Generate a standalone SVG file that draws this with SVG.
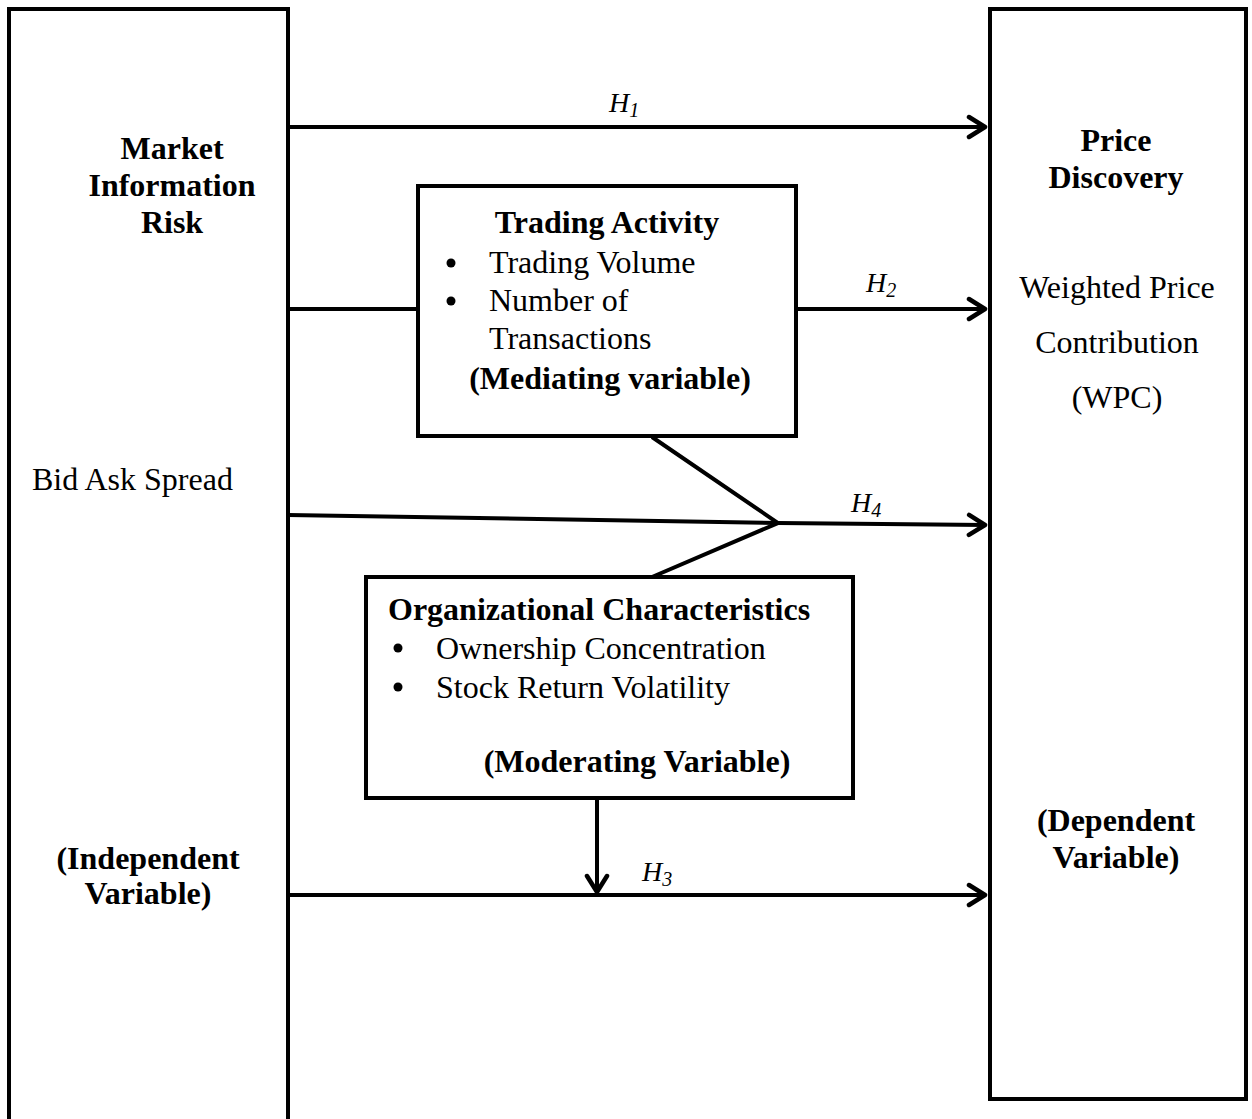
<svg xmlns="http://www.w3.org/2000/svg" width="1252" height="1119" viewBox="0 0 1252 1119">
<style>
.box{fill:#fff;stroke:#000;stroke-width:4}
.ln{fill:none;stroke:#000;stroke-width:4}
text{font-family:"Liberation Serif","Times New Roman",serif;font-size:32px;fill:#000}
.b{font-weight:bold}
.c{text-anchor:middle}
.h{font-style:italic;font-size:28px}
.s{font-size:20px}
</style>
<defs>
<marker id="ah" viewBox="0 0 22 26" refX="20" refY="13" markerWidth="22" markerHeight="26" markerUnits="userSpaceOnUse" orient="auto">
<path d="M3,3 L19,13 L3,23" fill="none" stroke="#000" stroke-width="4.5" stroke-linecap="round" stroke-linejoin="round"/>
</marker>
</defs>
<g id="independent">
<rect class="box" x="9" y="9" width="279" height="1120"/>
<text class="b c" x="172" y="159">Market</text>
<text class="b c" x="172" y="196">Information</text>
<text class="b c" x="172" y="233">Risk</text>
<text x="32" y="490">Bid Ask Spread</text>
<text class="b c" x="148" y="869">(Independent</text>
<text class="b c" x="148" y="904">Variable)</text>
</g>
<g id="dependent">
<rect class="box" x="990" y="9" width="256" height="1090"/>
<text class="b c" x="1116" y="151">Price</text>
<text class="b c" x="1116" y="188">Discovery</text>
<text class="c" x="1117" y="298">Weighted Price</text>
<text class="c" x="1117" y="353">Contribution</text>
<text class="c" x="1117" y="408">(WPC)</text>
<text class="b c" x="1116" y="831">(Dependent</text>
<text class="b c" x="1116" y="868">Variable)</text>
</g>
<g id="connectors">
<line class="ln" x1="288" y1="127" x2="986" y2="127" marker-end="url(#ah)"/>
<line class="ln" x1="288" y1="309" x2="418" y2="309"/>
<line class="ln" x1="796" y1="309" x2="986" y2="309" marker-end="url(#ah)"/>
<polyline class="ln" points="288,515 778,523 986,525" marker-end="url(#ah)"/>
<polyline class="ln" points="652,437 778,523 652,577"/>
<line class="ln" x1="288" y1="895" x2="986" y2="895" marker-end="url(#ah)"/>
<line class="ln" x1="597" y1="798" x2="597" y2="893" marker-end="url(#ah)"/>
<text class="h" x="609" y="112">H<tspan class="s" dy="5">1</tspan></text>
<text class="h" x="866" y="292">H<tspan class="s" dy="5">2</tspan></text>
<text class="h" x="851" y="512">H<tspan class="s" dy="5">4</tspan></text>
<text class="h" x="642" y="881">H<tspan class="s" dy="5">3</tspan></text>
</g>
<g id="trading-activity">
<rect class="box" x="418" y="186" width="378" height="250"/>
<text class="b c" x="607" y="233">Trading Activity</text>
<circle cx="451" cy="263" r="4.5"/>
<circle cx="451" cy="301" r="4.5"/>
<text x="489" y="273">Trading Volume</text>
<text x="489" y="311">Number of</text>
<text x="489" y="349">Transactions</text>
<text class="b c" x="610" y="389">(Mediating variable)</text>
</g>
<g id="organizational-characteristics">
<rect class="box" x="366" y="577" width="487" height="221"/>
<text class="b" x="388" y="620">Organizational Characteristics</text>
<circle cx="398" cy="648" r="4.5"/>
<circle cx="398" cy="687" r="4.5"/>
<text x="436" y="659">Ownership Concentration</text>
<text x="436" y="698">Stock Return Volatility</text>
<text class="b c" x="637" y="772">(Moderating Variable)</text>
</g>
</svg>
